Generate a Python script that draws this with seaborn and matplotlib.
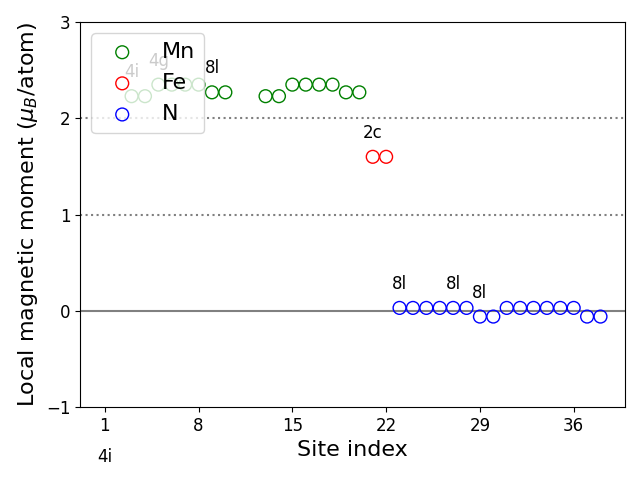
import matplotlib
matplotlib.use("Agg")
import matplotlib.pyplot as plt
import seaborn as sns
import numpy as np

mn_sites = [3, 4, 5, 6, 7, 8, 9, 10, 13, 14, 15, 16, 17, 18, 19, 20]
mn_vals = [2.23, 2.23, 2.35, 2.35, 2.35, 2.35, 2.27, 2.27,
           2.23, 2.23, 2.35, 2.35, 2.35, 2.35, 2.27, 2.27]
fe_sites = [21, 22]
fe_vals = [1.60, 1.60]
n_sites = list(range(23, 39))
n_vals = [0.03, 0.03, 0.03, 0.03, 0.03, 0.03, -0.06, -0.06,
          0.03, 0.03, 0.03, 0.03, 0.03, 0.03, -0.06, -0.06]

label_sites = [1, 3, 5, 9, 21, 23, 27, 29]
label_ys = [-1.52, 2.48, 2.60, 2.52, 1.85, 0.28, 0.28, 0.19]
label_texts = ["4i", "4i", "4g", "8l", "2c", "8l", "8l", "8l"]

xticks = [1, 8, 15, 22, 29, 36]

fig, ax = plt.subplots(figsize=(6.4, 4.8), dpi=100)

ax.axhline(0, color="gray", lw=1.5, zorder=1)
ax.axhline(1, color="gray", lw=1.5, ls=":", zorder=1)
ax.axhline(2, color="gray", lw=1.5, ls=":", zorder=1)

for sites, vals, col, lab in [(mn_sites, mn_vals, "green", "Mn"),
                              (fe_sites, fe_vals, "red", "Fe"),
                              (n_sites, n_vals, "blue", "N")]:
    sns.scatterplot(x=sites, y=vals, ax=ax, marker="o", s=85,
                    facecolors="none", edgecolor=col, linewidth=1,
                    label=lab, zorder=3)

for xs, ys, t in zip(label_sites, label_ys, label_texts):
    ax.text(xs, ys, t, ha="center", va="center", fontsize=12)

ax.set_xlim(-0.85, 39.85)
ax.set_ylim(-1, 3)
ax.set_xticks(xticks)
ax.set_yticks([-1, 0, 1, 2, 3])
ax.tick_params(labelsize=12)
ax.set_xlabel("Site index", fontsize=16)
ax.set_ylabel(r"Local magnetic moment ($\mu_B$/atom)", fontsize=16)
ax.legend(loc="upper left", fontsize=16)

fig.subplots_adjust(left=0.125, right=0.977, top=0.954, bottom=0.152)
fig.savefig("out.png", dpi=100)
